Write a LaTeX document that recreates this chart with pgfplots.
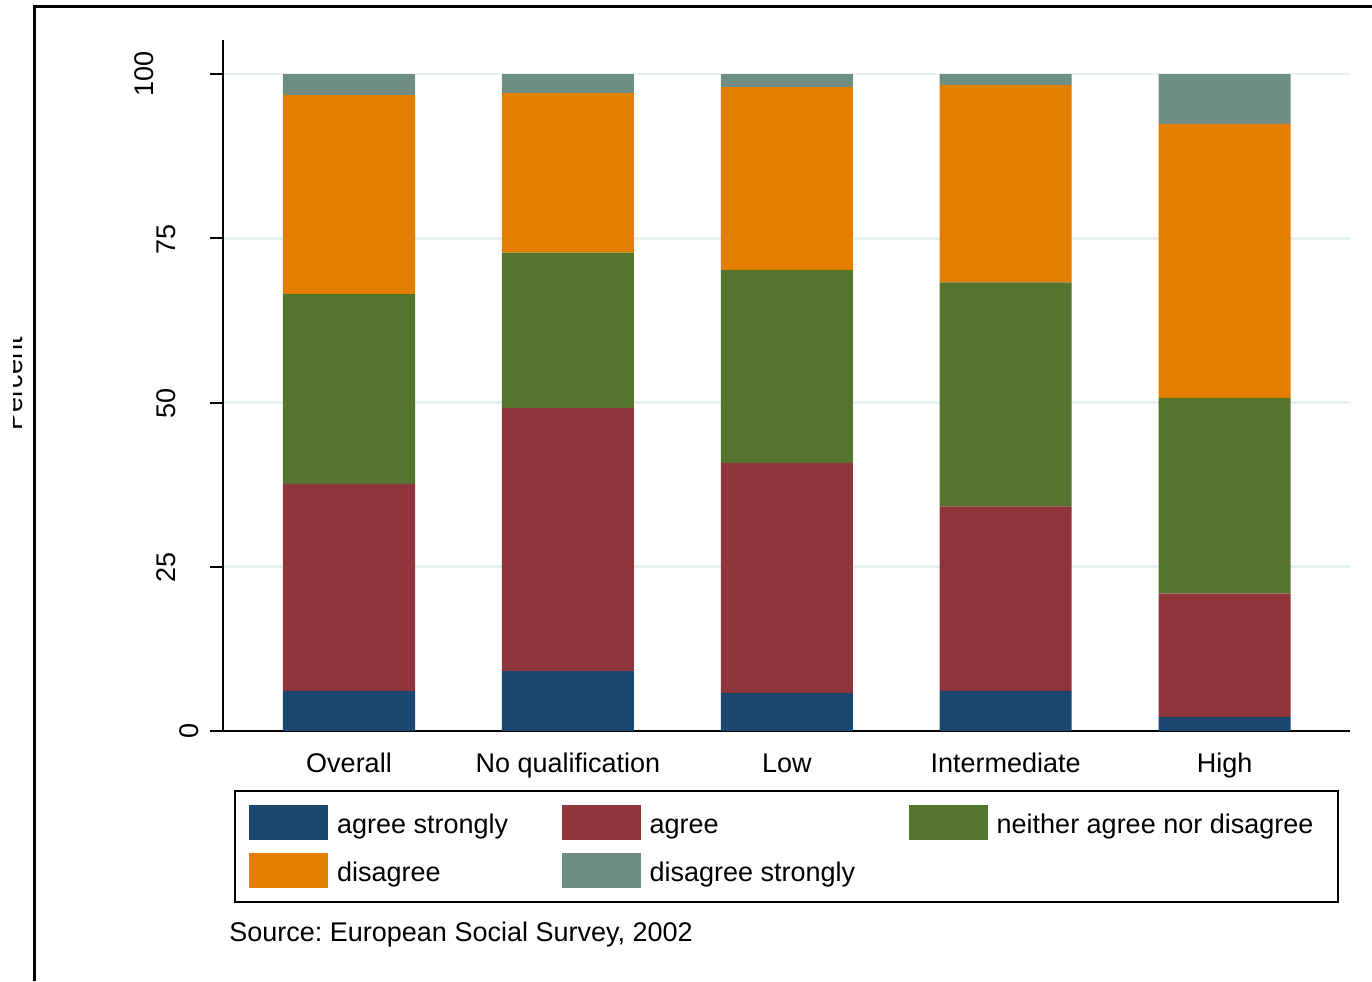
\documentclass[border=0pt]{standalone}
\usepackage{pgfplots}
\pgfplotsset{compat=1.18}
\usepackage{fontspec}
\setmainfont{Liberation Sans}
% Stata s2color
\definecolor{snavy}{RGB}{26,71,111}
\definecolor{smaroon}{RGB}{144,53,59}
\definecolor{sgreen}{RGB}{85,117,47}
\definecolor{sorange}{RGB}{227,126,0}
\definecolor{steal}{RGB}{110,142,132}
\definecolor{sgrid}{RGB}{232,241,244}
\begin{document}
\frenchspacing
\fontsize{13.5pt}{16pt}\selectfont
\begin{tikzpicture}
% one pixel of the reference = 0.5pt, y downwards
\begin{scope}[x=0.5pt,y=-0.5pt]
\useasboundingbox (0,0) rectangle (1372,981);
\draw[line width=1.5pt] (34.5,981) -- (34.5,6) -- (1372,6);
\begin{scope}
\clip (13,0) rectangle (60,981);
\node[rotate=90,anchor=base,inner sep=0pt] at (23,383.5) {Percent};
\end{scope}
\node[rotate=90,anchor=base,inner sep=0pt] at (153,74) {100};
\node[rotate=90,anchor=base,inner sep=0pt] at (175,239) {75};
\node[rotate=90,anchor=base,inner sep=0pt] at (175,403) {50};
\node[rotate=90,anchor=base,inner sep=0pt] at (175,567) {25};
\node[rotate=90,anchor=base,inner sep=0pt] at (198,731) {0};
\node[anchor=base west,inner sep=0pt] at (229,941) {Source: European Social Survey, 2002};
\end{scope}
\begin{axis}[
  at={(111.5pt,-365.5pt)}, anchor=south west,
  scale only axis, width=563.5pt, height=345.5pt,
  xmin=-0.5756, xmax=4.5729, ymin=0, ymax=105.18,
  ybar stacked, bar width=66pt,
  axis x line*=bottom, axis y line*=left,
  axis line style={line width=1pt,-},
  xtick={0,1,2,3,4},
  xticklabels={Overall,No qualification,Low,Intermediate,High},
  xtick style={draw=none},
  xticklabel style={anchor=base,yshift=-14pt,inner sep=0pt},
  ytick={0,25,50,75,100}, yticklabels={},
  ytick style={line width=1pt,black},
  tick align=outside, major tick length=6.5pt,
  ymajorgrids, grid style={sgrid,line width=1.3pt},
  clip=false,
  legend image code/.code={\fill (0pt,-3.5pt) rectangle (39.5pt,14pt);},
  legend columns=3,
  legend style={at={(0.01065,-0.08683)}, anchor=north west,
    draw=black, line width=1pt, outer sep=0pt,
    inner xsep=7pt, inner ysep=7pt, row sep=6.5pt,
    font=\fontsize{13.5pt}{16pt}\selectfont,
    cells={anchor=base west}, nodes={inner sep=0pt},
    /tikz/every even column/.append style={column sep=26.75pt},
    /tikz/every odd column/.append style={column sep=4.5pt}},
]
\addplot[fill=snavy,draw=none] coordinates {(0,6.1) (1,9.1) (2,5.8) (3,6.1) (4,2.1)};
\addlegendentry{agree strongly}
\addplot[fill=smaroon,draw=none] coordinates {(0,31.5) (1,40.1) (2,35.0) (3,28.1) (4,18.8)};
\addlegendentry{agree}
\addplot[fill=sgreen,draw=none] coordinates {(0,28.9) (1,23.6) (2,29.4) (3,34.1) (4,29.8)};
\addlegendentry{neither agree nor disagree\hspace*{5.5pt}}
\addplot[fill=sorange,draw=none] coordinates {(0,30.3) (1,24.3) (2,27.8) (3,30.0) (4,41.7)};
\addlegendentry{disagree}
\addplot[fill=steal,draw=none] coordinates {(0,3.2) (1,2.9) (2,2.0) (3,1.7) (4,7.6)};
\addlegendentry{disagree strongly}
\end{axis}
\end{tikzpicture}
\end{document}
